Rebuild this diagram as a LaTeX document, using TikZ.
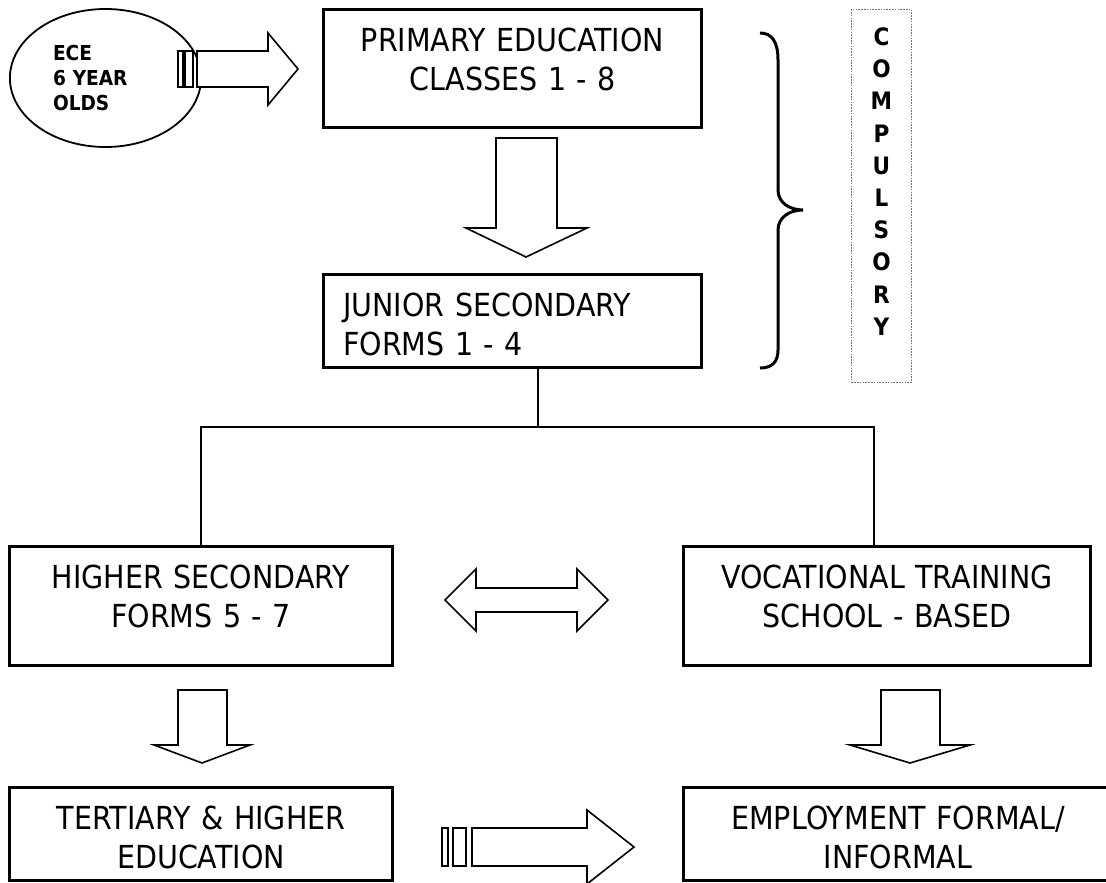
\documentclass[tikz,border=0pt]{standalone}
\usepackage{fontspec}
\setmainfont{DejaVu Sans}[FakeStretch=0.9]
\usetikzlibrary{calc,positioning,shapes}

\begin{document}
\begin{tikzpicture}[x=0.5pt,y=-0.5pt]
	\tikzstyle{block} = [draw, rectangle, line width=1.65pt, inner xsep=9.75pt, inner ysep=9.25pt, text height=11.6pt, font=\fontsize{15.85}{19.5}\selectfont]
	\tikzstyle{fat} = [draw, line width=0.8pt, fill=white]
	\tikzstyle{link} = [draw, line width=0.65pt]
	\tikzstyle{tag} = [font=\bfseries\fontsize{10.3}{12.5}\selectfont]
	
	\useasboundingbox (0,0) rectangle (1106,882);
	
	\node [draw, ellipse, line width=0.9pt, minimum width=95.6pt, minimum height=69pt, text width=52.5pt, inner sep=0pt, align=left, tag] (ece) at (105.5,78) {ECE\\6 YEAR\\OLDS};
	
	\node [block, anchor=north west, text width=169.35pt, align=center, text depth=28.75pt] (primary) at (322,8) {PRIMARY EDUCATION\\CLASSES 1 - 8};
	
	\node [block, below=72pt of primary, text width=169.35pt, align=left, text depth=16.25pt] (junior) {JUNIOR SECONDARY\\FORMS 1 - 4};
	
	\node [draw, rectangle, anchor=north west, line width=0.45pt, black!55, dash pattern=on 0.8pt off 0.6pt, inner xsep=0pt, inner ysep=9.25pt, text width=30pt, text height=8.75pt, text depth=159.25pt, align=center, text=black, font=\bfseries\fontsize{12}{16.1}\selectfont] (compulsory) at (851,9) {C\\O\\M\\P\\U\\L\\S\\O\\R\\Y};
	
	\node [block, anchor=north west, text width=171.85pt, align=center, text depth=29.25pt] (higher) at (8,545) {HIGHER SECONDARY\\FORMS 5 - 7};
	
	\node [block, right=144pt of higher, text width=183.85pt, align=center, text depth=29.25pt] (vocational) {VOCATIONAL TRAINING\\SCHOOL - BASED};
	
	\node [block, below=59.5pt of higher, text width=171.85pt, align=center, text depth=16.25pt] (tertiary) {TERTIARY \& HIGHER\\EDUCATION};
	
	\node [block, right=144pt of tertiary, text width=194.85pt, align=center, text depth=16.25pt] (employment) {EMPLOYMENT FORMAL/\\INFORMAL};
	
	\coordinate (split) at (538,427);
	\coordinate (vocin) at (874,427);
	
	\draw [link] (split |- junior.south) -- (split);
	\draw [link] (higher.north) |- (vocin) -- (vocin |- vocational.north);
	
	\draw [fat] (178,51) rectangle (183,87);
	\draw [fat] (185,51) rectangle (193,87);
	\draw [fat] (197,51) -- (268,51) -- (268,33) -- (298,69) -- (268,105) -- (268,87) -- (197,87) -- cycle;
	
	\draw [fat] (496,138) -- (557,138) -- (557,228) -- (587,228) -- (526,257) -- (466,228) -- (496,228) -- cycle;
	
	\draw [line width=1.5pt] (760,33) .. controls (772,33) and (778,42) .. (778,60) -- (778,190) .. controls (778,203) and (790,210) .. (803,210) .. controls (790,210) and (778,217) .. (778,230) -- (778,350) .. controls (778,362) and (772,368) .. (760,368);
	
	\draw [fat] (445,600) -- (476,569) -- (476,588) -- (577,588) -- (577,569) -- (608,600) -- (577,631) -- (577,612) -- (476,612) -- (476,631) -- cycle;
	
	\draw [fat] (178,690) -- (227,690) -- (227,745) -- (250,745) -- (202,763) -- (154,745) -- (178,745) -- cycle;
	\draw [fat] (881,690) -- (940,690) -- (940,745) -- (970,745) -- (910,763) -- (850,745) -- (881,745) -- cycle;
	
	\draw [fat] (442,828) rectangle (448,866);
	\draw [fat] (453,828) rectangle (466,866);
	\draw [fat] (472,828) -- (587,828) -- (587,810) -- (634,847) -- (587,884) -- (587,866) -- (472,866) -- cycle;
\end{tikzpicture}
\end{document}
